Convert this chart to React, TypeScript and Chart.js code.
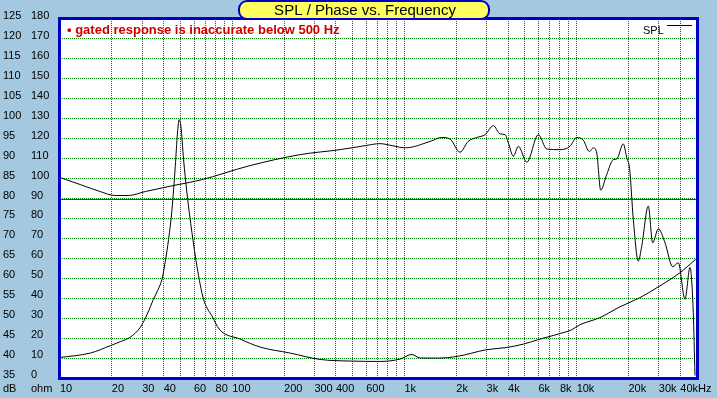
import React, { useEffect, useRef } from 'react';
import { Chart, registerables } from 'chart.js';

Chart.register(...registerables);

// SPL curve (dB, left outer axis)
const splFreq = [10, 13.1, 17.1, 20.9, 24.9, 31.3, 45.5, 65, 127, 248, 424, 591, 722, 848, 1010, 1410, 1648, 1841, 2104, 2343, 2631, 2939, 3285, 3593, 3842, 4015, 4292, 4588, 5133, 5994, 6706, 8010, 9155, 10014, 10937, 11850, 12500, 13085, 13800, 14950, 16330, 17090, 18660, 19540, 20300, 21340, 22810, 23870, 26070, 27650, 29810, 32600, 36130, 38930, 42580, 45520, 47570, 48670];
const splDb = [85.25, 83.5, 81.75, 80.75, 80.75, 81.75, 83.25, 84.6, 88.25, 91, 92.25, 93.25, 93.75, 93.25, 92.7, 94.3, 95.3, 94.9, 91.6, 94.3, 95.3, 96, 98.25, 96.2, 96, 93.9, 90.6, 93.1, 89.1, 96, 92.4, 92.25, 93.1, 95.3, 94.6, 91.8, 92.7, 91.4, 82.1, 86, 89.75, 89.9, 93.7, 90.2, 87.5, 74.75, 64.3, 68, 78.1, 68.9, 72.4, 68.9, 62.9, 63.9, 54.75, 62.7, 51.4, 35.6];

// Impedance curve (ohm, left inner axis)
const impFreq = [10, 15, 19.6, 22.4, 25.6, 29.2, 32.1, 34.9, 37.2, 39.1, 40.8, 42.7, 44.7, 46.7, 48.1, 49.2, 50.4, 52.2, 54.6, 58.4, 62.4, 68.1, 71.6, 76.2, 84, 111.3, 145.4, 217, 324, 484, 722, 944, 1104, 1234, 1576, 2014, 3008, 3929, 4906, 6133, 8010, 9365, 10464, 13670, 17860, 23330, 30480, 39820, 49120];
const impOhm = [10.3, 12.5, 16.2, 18.2, 20.5, 25.3, 32, 39.5, 44.5, 49.5, 58, 69.5, 84.5, 106, 122.8, 129.5, 126, 109.5, 92.8, 72.8, 56, 39.5, 35, 31.2, 24.5, 19.5, 15.5, 12.5, 9.3, 8.5, 8.3, 9.5, 11.8, 10, 10, 10.8, 14.2, 15.3, 17, 19.5, 22.3, 24.2, 26.7, 30.3, 35.7, 40.3, 46.2, 52.8, 59.5];

// Frequency grid lines and their labels
const gridFreqs = [10, 20, 30, 40, 50, 60, 70, 80, 90, 100, 200, 300, 400, 500, 600, 700, 800, 900, 1000, 2000, 3000, 4000, 5000, 6000, 7000, 8000, 9000, 10000, 20000, 30000, 40000];
const labelledFreqs = [10, 20, 30, 40, 60, 80, 100, 200, 300, 400, 600, 1000, 2000, 3000, 4000, 6000, 8000, 10000, 20000, 30000, 40000];
const freqLabels = ['10', '20', '30', '40', '60', '80', '100', '200', '300', '400', '600', '1k', '2k', '3k', '4k', '6k', '8k', '10k', '20k', '30k', '40kHz'];

const title = 'SPL / Phase vs. Frequency';
const note = '\u2022 gated response is inaccurate below 500 Hz';
const legendLabel = 'SPL';
const dbUnit = 'dB';
const ohmUnit = 'ohm';
const referenceDb = 80;

const BG = '#A4C8E0';
const GRID = '#008000';
const FONT = 'Liberation Sans, Arial, sans-serif';

export default function App() {
  const ref = useRef<HTMLCanvasElement | null>(null);

  useEffect(() => {
    const canvas = ref.current;
    if (!canvas) return;

    const decor = {
      id: 'decor',
      beforeDraw(chart: any) {
        const { ctx, chartArea: a } = chart;
        ctx.save();
        ctx.fillStyle = BG;
        ctx.fillRect(0, 0, chart.width, chart.height);
        ctx.fillStyle = '#FFFFFF';
        ctx.fillRect(a.left, a.top, a.right - a.left, a.bottom - a.top);
        ctx.restore();
      },
      afterDatasetsDraw(chart: any) {
        const { ctx, chartArea: a } = chart;
        const y = Math.round(chart.scales.db.getPixelForValue(referenceDb));
        ctx.save();
        ctx.fillStyle = '#E00000';
        ctx.fillRect(a.left, y, a.right - a.left, 1);
        ctx.restore();
      },
      afterDraw(chart: any) {
        const { ctx, chartArea: a } = chart;
        ctx.save();
        // frame
        ctx.strokeStyle = '#0000C8';
        ctx.lineWidth = 3;
        ctx.strokeRect(a.left - 0.5, a.top - 0.5, a.right - a.left + 1, a.bottom - a.top + 1);
        // title box
        ctx.fillStyle = '#FFFF60';
        ctx.strokeStyle = '#0000C8';
        ctx.lineWidth = 2;
        ctx.beginPath();
        (ctx as any).roundRect(239, 1, 250, 18, 8);
        ctx.fill();
        ctx.stroke();
        ctx.fillStyle = '#000000';
        ctx.font = `15px ${FONT}`;
        ctx.textAlign = 'center';
        ctx.textBaseline = 'middle';
        ctx.fillText(title, 365, 10.5);
        // note
        ctx.fillStyle = '#CC0000';
        ctx.font = `bold 13px ${FONT}`;
        ctx.textAlign = 'left';
        ctx.fillText(note, 67, 30);
        // legend
        ctx.fillStyle = '#000000';
        ctx.font = `11px ${FONT}`;
        ctx.fillText(legendLabel, 643, 31);
        ctx.strokeStyle = '#000000';
        ctx.lineWidth = 1;
        ctx.beginPath();
        ctx.moveTo(667, 25.5);
        ctx.lineTo(692, 25.5);
        ctx.stroke();
        // axis unit labels
        ctx.textBaseline = 'middle';
        ctx.fillText(dbUnit, chart.scales.db.left, 389);
        ctx.fillText(ohmUnit, chart.scales.ohm.left, 389);
        ctx.restore();
      },
    };

    const tickFont = { family: FONT, size: 11 };

    const chart = new Chart(canvas, {
      type: 'line',
      data: {
        datasets: [
          {
            label: 'SPL',
            data: splFreq.map((f, i) => ({ x: f, y: splDb[i] })),
            yAxisID: 'db',
            borderColor: '#000000',
            borderWidth: 1,
            pointRadius: 0,
            cubicInterpolationMode: 'monotone',
            fill: false,
          },
          {
            label: 'Impedance',
            data: impFreq.map((f, i) => ({ x: f, y: impOhm[i] })),
            yAxisID: 'ohm',
            borderColor: '#000000',
            borderWidth: 1,
            pointRadius: 0,
            cubicInterpolationMode: 'monotone',
            fill: false,
          },
        ],
      },
      options: {
        responsive: false,
        animation: false,
        devicePixelRatio: 1,
        layout: { padding: { left: 3, right: 20, top: 19, bottom: 0 } },
        plugins: { legend: { display: false }, tooltip: { enabled: false }, title: { display: false } },
        scales: {
          x: {
            type: 'logarithmic',
            position: 'bottom',
            min: 10,
            max: 50000,
            afterBuildTicks: (s: any) => {
              s.ticks = gridFreqs.map((v) => ({ value: v }));
            },
            afterFit: (s: any) => {
              s.height = 20;
              s.paddingLeft = 0;
              s.paddingRight = 0;
            },
            grid: { color: GRID, lineWidth: 1, drawTicks: false },
            border: { display: false, dash: [1, 1] },
            ticks: {
              autoSkip: false,
              maxRotation: 0,
              minRotation: 0,
              align: 'start',
              padding: 4,
              color: '#000000',
              font: tickFont,
              callback: (_v: any, i: number) => {
                const k = labelledFreqs.indexOf(gridFreqs[i]);
                return k >= 0 ? freqLabels[k] : '';
              },
            },
          },
          db: {
            type: 'linear',
            position: 'left',
            weight: 2,
            min: 35,
            max: 125,
            afterFit: (s: any) => {
              s.width = 28;
              s.paddingTop = 0;
              s.paddingBottom = 0;
            },
            grid: { color: GRID, lineWidth: 1, drawTicks: false },
            border: { display: false, dash: [1, 1] },
            ticks: {
              stepSize: 5,
              crossAlign: 'far',
              labelOffset: -3,
              padding: 0,
              color: '#000000',
              font: tickFont,
            },
          },
          ohm: {
            type: 'linear',
            position: 'left',
            weight: 1,
            min: 0,
            max: 180,
            afterFit: (s: any) => {
              s.width = 29;
              s.paddingTop = 0;
              s.paddingBottom = 0;
            },
            grid: { display: false, drawTicks: false },
            border: { display: false },
            ticks: {
              stepSize: 10,
              crossAlign: 'far',
              labelOffset: -3,
              padding: 0,
              color: '#000000',
              font: tickFont,
            },
          },
        },
      },
      plugins: [decor],
    } as any);

    return () => chart.destroy();
  }, []);

  return (
    <div style={{ position: 'absolute', left: 0, top: 0, width: 717, height: 398, background: BG }}>
      <canvas ref={ref} width={717} height={398} style={{ display: 'block', width: 717, height: 398 }} />
    </div>
  );
}
